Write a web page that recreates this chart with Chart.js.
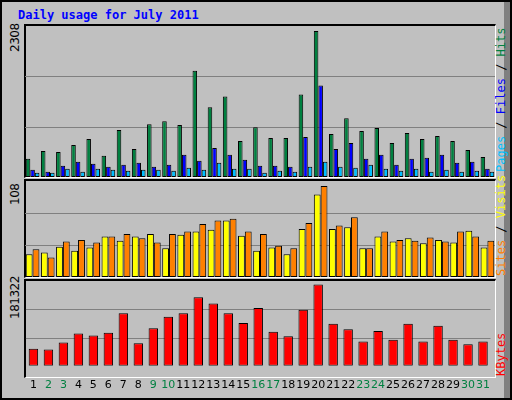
<!DOCTYPE html>
<html><head><meta charset="utf-8">
<script src="https://cdn.jsdelivr.net/npm/chart.js@4"></script>
<style>
body{margin:0;background:#fff;}
#frame{position:absolute;left:0;top:0;width:508px;height:396px;background:#c0c0c0;border:2px solid #000;box-sizing:content-box;}
#frame:after{content:"";position:absolute;right:0;top:0;width:6px;height:100%;background:#808080;}
.panel{position:absolute;left:25px;width:470px;}
.box{position:absolute;left:24px;width:472px;border-top:2px solid #000;border-left:2px solid #000;border-right:1px solid #fff;border-bottom:1px solid #fff;box-sizing:border-box;}
.vl{position:absolute;font-family:"DejaVu Sans Mono",monospace;font-size:12px;transform-origin:0 0;white-space:nowrap;transform:rotate(-90deg);line-height:13px;}
.yl{position:absolute;font-family:"DejaVu Sans",sans-serif;font-size:12px;transform-origin:0 0;white-space:nowrap;transform:rotate(-90deg);line-height:13px;color:#000;letter-spacing:-0.5px;}
#title{position:absolute;left:18px;top:8px;font:bold 12px "DejaVu Sans Mono",monospace;color:#0000ff;}
</style></head><body>
<div id="frame"></div>
<div id="title">Daily usage for July 2011</div>
<div class="box" style="top:24px;height:154px"></div>
<div class="box" style="top:179px;height:99px"></div>
<div class="box" style="top:279px;height:99px"></div>
<div class="yl" style="left:9px;top:52px;">2308</div>
<div class="yl" style="left:9px;top:205px;">108</div>
<div class="yl" style="left:9px;top:319px;">181322</div>
<div class="vl" style="left:495px;top:172px;"><span style="color:#00c0ff">Pages</span><span style="color:#000"> / </span><span style="color:#0000ff">Files</span><span style="color:#000"> / </span><span style="color:#008040">Hits</span></div>
<div class="vl" style="left:495px;top:276px;"><span style="color:#ff8000">Sites</span><span style="color:#000"> / </span><span style="color:#ffff00">Visits</span></div>
<div class="vl" style="left:495px;top:376px;color:#ff0000">KBytes</div>
<canvas id="c1" class="panel" style="position:absolute;top:26px;height:151px"></canvas>
<canvas id="c2" class="panel" style="position:absolute;top:181px;height:96px"></canvas>
<canvas id="c3" class="panel" style="position:absolute;top:281px;height:116px"></canvas>
<script>
const days=['1','2','3','4','5','6','7','8','9','10','11','12','13','14','15','16','17','18','19','20','21','22','23','24','25','26','27','28','29','30','31'];
const weekend=['2','3','9','10','16','17','23','24','30','31'];
const hits=[287,412,397,506,600,334,741,444,835,882,820,1681,1102,1274,569,788,616,616,1305,2308,679,929,726,773,538,694,600,647,569,428,318];
const files=[115,84,177,240,209,162,193,224,162,193,350,256,459,350,271,177,177,162,632,1446,444,538,287,350,193,287,303,350,224,240,131];
const pages=[68,68,131,84,131,115,99,115,115,99,146,115,224,131,131,68,99,84,162,240,162,146,193,131,99,131,84,115,84,99,84];
const sites=[27,29,36,31,35,48,43,48,51,34,50,54,56,67,49,31,35,27,57,98,57,59,34,48,42,46,40,44,41,55,35];
const visits=[33,23,42,44,41,48,51,46,41,51,54,63,67,69,54,51,37,34,64,108,61,71,34,54,44,43,47,42,54,48,43];
const kbytes=[38222,36245,52061,71831,67877,73808,117302,50084,83693,109394,117302,152888,139049,117302,95555,129164,75785,65900,125210,181322,93578,81716,54038,77762,57992,93578,54038,89624,57992,48107,54038];

const grid={id:'grid',beforeDatasetsDraw(ch){const y=ch.scales.y,a=ch.chartArea,c=ch.ctx;c.save();c.strokeStyle='#808080';c.lineWidth=1;[1/3,2/3].forEach(f=>{const p=Math.round(y.getPixelForValue(y.max*f))+0.5;c.beginPath();c.moveTo(a.left,p);c.lineTo(a.right,p);c.stroke();});c.restore();}};
function ds(label,data,color,bp){return {label,data,backgroundColor:color,borderColor:'#000',borderWidth:1,borderSkipped:false,barPercentage:bp,categoryPercentage:0.9};}
function mk(id,sets,max,showX){
 new Chart(document.getElementById(id),{type:'bar',data:{labels:days,datasets:sets},
 options:{animation:false,responsive:false,maintainAspectRatio:false,layout:{padding:0},
 plugins:{legend:{display:false},tooltip:{enabled:false}},
 scales:{x:{display:showX,grid:{display:false},border:{display:false},ticks:{font:{family:'DejaVu Sans',size:11},color:c=>weekend.includes(days[c.index])?'#008040':'#000',padding:5,maxRotation:0,autoSkip:false}},
 y:{display:false,min:0,max:max}}},plugins:[grid]});
}
['c1','c2','c3'].forEach(i=>{const e=document.getElementById(i);e.width=470;e.height=parseInt(e.style.height);});
mk('c1',[ds('Hits',hits,'#008040',1),ds('Files',files,'#0000ff',1),ds('Pages',pages,'#00c0ff',1)],2308*152/147,false);
mk('c2',[ds('Sites',sites,'#ffff00',1),ds('Visits',visits,'#ff8000',1)],108*97/92,false);
mk('c3',[ds('KBytes',kbytes,'#ff0000',0.7)],181322*96/92,true);
</script></body></html>
